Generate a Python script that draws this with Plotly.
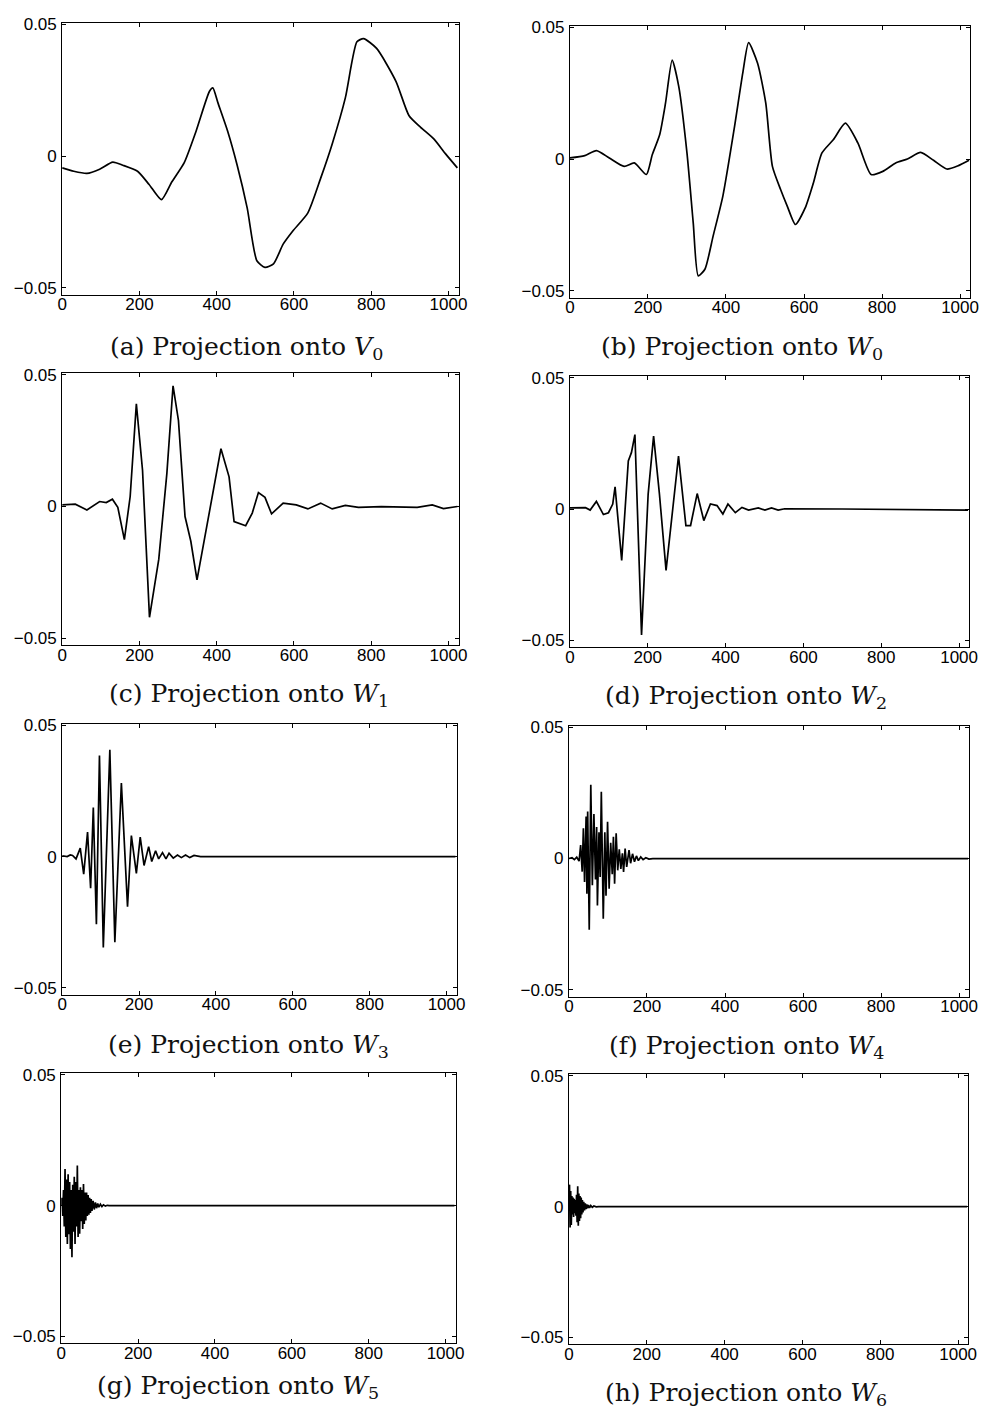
import plotly.graph_objects as go

# ---------------- data ----------------
x_ticks = [0, 200, 400, 600, 800, 1000]
y_tickvals = [-0.05, 0, 0.05]
y_ticktext = ["\u22120.05", "0", "0.05"]

captions = [
    "(a) Projection onto <i>V</i><sub>0</sub>",
    "(b) Projection onto <i>W</i><sub>0</sub>",
    "(c) Projection onto <i>W</i><sub>1</sub>",
    "(d) Projection onto <i>W</i><sub>2</sub>",
    "(e) Projection onto <i>W</i><sub>3</sub>",
    "(f) Projection onto <i>W</i><sub>4</sub>",
    "(g) Projection onto <i>W</i><sub>5</sub>",
    "(h) Projection onto <i>W</i><sub>6</sub>",
]

a_x = [0, 30, 64, 97, 131, 157, 195, 225, 257, 284, 316, 347, 381, 390, 403, 428, 453,
       479, 504, 525, 547, 572, 597, 636, 669, 699, 733, 763, 780, 814, 864, 898, 928,
       962, 992, 1023]
a_y = [-0.0045, -0.0058, -0.0066, -0.005, -0.0023, -0.0035, -0.0058, -0.0108, -0.0166,
       -0.0098, -0.0025, 0.0096, 0.0245, 0.0259, 0.0203, 0.0096, -0.0035, -0.0198, -0.0398,
       -0.0423, -0.041, -0.0335, -0.0285, -0.0216, -0.0085, 0.0046, 0.0221, 0.0434, 0.0446,
       0.0409, 0.0284, 0.0153, 0.0109, 0.0065, 0.0009, -0.0045]

b_x = [0, 38, 68, 101, 139, 165, 196, 211, 230, 245, 262, 279, 300, 316, 329, 346, 367,
       392, 422, 443, 458, 481, 502, 519, 540, 557, 578, 603, 624, 646, 675, 706, 738, 772,
       802, 835, 865, 899, 932, 966, 996, 1023]
b_y = [0.0004, 0.0013, 0.0032, 0.0004, -0.0028, -0.0015, -0.0059, 0.0016, 0.0092, 0.0212,
       0.0376, 0.0275, 0.0023, -0.0242, -0.0444, -0.0419, -0.0293, -0.0141, 0.0124, 0.0326,
       0.0442, 0.0364, 0.0212, -0.0028, -0.0116, -0.0179, -0.0249, -0.0186, -0.0091, 0.0023,
       0.0073, 0.0136, 0.0061, -0.0059, -0.0047, -0.0015, 0.0, 0.0025, -0.0005, -0.0038,
       -0.0025, -0.0005]

c_x = [0, 34, 64, 97, 114, 130, 144, 161, 176, 192, 208, 226, 250, 271, 287, 301, 318,
       333, 349, 368, 390, 411, 432, 445, 475, 492, 508, 525, 542, 572, 606, 636, 669, 699,
       733, 767, 826, 919, 958, 987, 1023]
c_y = [0.0006, 0.0009, -0.0013, 0.0019, 0.0015, 0.0028, -0.0003, -0.0126, 0.0038, 0.039,
       0.0138, -0.0421, -0.0201, 0.0126, 0.0459, 0.0327, -0.0038, -0.0132, -0.0279, -0.0126,
       0.005, 0.022, 0.0113, -0.0057, -0.0073, -0.0025, 0.0053, 0.0035, -0.0028, 0.0013,
       0.0006, -0.0009, 0.0013, -0.0009, 0.0004, -0.0003, 0.0, -0.0003, 0.0006, -0.0008, 0.0]

d_x = [0, 40, 52, 68, 86, 99, 110, 116, 133, 150, 158, 167, 184, 201, 215, 230, 247, 264,
       279, 298, 310, 327, 344, 361, 378, 393, 406, 425, 442, 459, 484, 501, 518, 535, 552,
       700, 1023]
d_y = [0.0004, 0.0005, -0.0004, 0.0029, -0.0021, -0.0014, 0.0019, 0.0085, -0.0196, 0.0183,
       0.0215, 0.0284, -0.048, 0.0057, 0.0278, 0.0057, -0.0234, 0.0006, 0.0202, -0.0063,
       -0.0063, 0.0059, -0.0044, 0.0019, 0.0013, -0.0019, 0.0019, -0.0014, 0.0006, -0.0004,
       0.0004, -0.0004, 0.0004, -0.0004, 0.0001, 0.0, -0.0004]

e_x = [0, 13, 21, 27, 36, 47, 56, 66, 74, 81, 89, 97, 107, 124, 137, 154, 170, 180, 193,
       203, 213, 225, 233, 243, 251, 261, 270, 278, 289, 300, 310, 321, 332, 343, 360, 1023]
e_y = [0.0003, 0.0, 0.0006, 0.0004, -0.0009, 0.0032, -0.0067, 0.0093, -0.0121, 0.0187,
       -0.0258, 0.0385, -0.0347, 0.0407, -0.0327, 0.028, -0.0191, 0.008, -0.0064, 0.0074,
       -0.0034, 0.0038, -0.0019, 0.0022, -0.0009, 0.0015, -0.0009, 0.0013, -0.0006, 0.0006,
       -0.0004, 0.0006, -0.0004, 0.0004, 0.0, 0.0]

f_x = [0, 8, 14, 20, 26, 30, 34, 37, 40, 44, 46, 48, 52, 56, 60, 64, 68, 71, 73, 77, 80,
       83, 88, 92, 95, 99, 103, 107, 111, 114, 117, 121, 125, 129, 133, 137, 140, 144, 148,
       154, 158, 163, 168, 173, 178, 184, 190, 197, 205, 215, 1023]
f_y = [0.0, 0.0003, -0.0004, 0.0005, -0.001, 0.0051, -0.005, 0.0115, -0.0089, 0.016,
       -0.0134, 0.0179, -0.0272, 0.0281, -0.0102, 0.017, -0.008, 0.012, -0.0179, 0.01,
       -0.007, 0.0255, -0.023, 0.01, -0.0142, 0.014, -0.0115, 0.006, -0.006, 0.0083, -0.0096,
       0.0096, -0.0045, 0.0035, -0.004, 0.002, -0.0051, 0.0038, -0.0032, 0.0032, -0.0018,
       0.0018, -0.0012, 0.001, -0.0008, 0.0006, -0.0004, 0.0003, -0.0002, 0.0, 0.0]

g_x = [0, 2, 4, 6, 8, 10, 12, 14, 16, 18, 20, 22, 24, 26, 28, 30, 32, 34, 36, 38, 40, 42,
       44, 46, 48, 50, 52, 54, 56, 58, 60, 62, 64, 66, 68, 70, 72, 74, 76, 78, 80, 83, 86,
       89, 92, 95, 98, 102, 106, 110, 115, 120, 125, 1023]
g_y = [0.0, 0.003, -0.004, 0.006, -0.008, 0.014, -0.012, 0.01, -0.0147, 0.012, -0.011,
       0.009, -0.0166, 0.006, -0.0198, 0.008, -0.01, 0.011, -0.0147, 0.009, -0.008, 0.0153,
       -0.012, 0.006, -0.0108, 0.007, -0.006, 0.006, -0.009, 0.0083, -0.007, 0.005, -0.0057,
       0.005, -0.004, 0.004, -0.0035, 0.003, -0.0028, 0.0025, -0.002, 0.0018, -0.0015,
       0.0012, -0.001, 0.0008, -0.0006, 0.0005, -0.0004, 0.0003, -0.0002, 0.0001, 0.0, 0.0]

h_x = [0, 1.5, 3, 4.5, 6, 7.5, 9, 10.5, 12, 13.5, 15, 16.5, 18, 19.5, 21, 22.5, 24, 25.5,
       27, 28.5, 30, 31.5, 33, 34.5, 36, 38, 40, 42, 44, 46, 48, 50, 53, 56, 60, 64, 70, 76,
       1023]
h_y = [0.0, 0.0084, -0.008, 0.006, -0.007, 0.004, -0.003, 0.0035, -0.004, 0.003, -0.0025,
       0.0025, -0.0035, 0.0045, -0.006, 0.0078, -0.0073, 0.005, -0.0055, 0.004, -0.0045,
       0.0035, -0.003, 0.0025, -0.0022, 0.0018, -0.0015, 0.0012, -0.001, 0.0008, -0.0007,
       0.0006, -0.0005, 0.0004, -0.0003, 0.0002, -0.0001, 0.0, 0.0]

series = [(a_x, a_y), (b_x, b_y), (c_x, c_y), (d_x, d_y),
          (e_x, e_y), (f_x, f_y), (g_x, g_y), (h_x, h_y)]

# ---------------- layout (pixel boxes of each panel) ----------------
W, H = 994, 1416
boxes = [  # left, right, top, bottom (px)
    (58, 460, 16, 290), (573, 979, 19, 293),
    (58, 460, 369, 643), (573, 978, 372, 645),
    (58, 458, 722, 995), (572, 978, 724, 997),
    (57, 457, 1074, 1346), (572, 977, 1075, 1347),
]
caption_pos = [(245, 343), (748, 343), (247, 693), (752, 695),
               (247, 1046), (752, 1047), (236, 1390), (752, 1397)]
smooth = [True, True, False, False, False, False, False, False]

fig = go.Figure()
tickfont = dict(family="Liberation Sans, Arial, sans-serif", size=17, color="black")

for i, ((xs, ys), (l, r, t, b)) in enumerate(zip(series, boxes)):
    n = "" if i == 0 else str(i + 1)
    fig.add_trace(go.Scatter(
        x=xs, y=ys, mode="lines",
        line=dict(color="black", width=1.7,
                  shape="spline" if smooth[i] else "linear",
                  smoothing=0.6 if smooth[i] else None),
        xaxis="x" + n, yaxis="y" + n, hoverinfo="skip"))
    fig.layout["xaxis" + n] = dict(
        domain=[l / W, r / W], anchor="y" + n, range=[0, 1026],
        tickvals=x_ticks, ticks="inside", ticklen=4, tickcolor="black",
        showline=True, linecolor="black", linewidth=1, mirror="ticks",
        showgrid=False, zeroline=False, tickfont=tickfont,
        ticklabelstandoff=-6, fixedrange=True)
    fig.layout["yaxis" + n] = dict(
        domain=[1 - b / H, 1 - t / H], anchor="x" + n, range=[-0.0528, 0.0506],
        tickvals=y_tickvals, ticktext=y_ticktext, ticks="inside", ticklen=4,
        tickcolor="black", showline=True, linecolor="black", linewidth=1,
        mirror="ticks", showgrid=False, zeroline=False, tickfont=tickfont,
        ticklabelstandoff=1, fixedrange=True)

for text, (cx, cy) in zip(captions, caption_pos):
    fig.add_annotation(
        text=text, xref="paper", yref="paper", x=cx / W, y=1 - cy / H,
        xanchor="center", yanchor="middle", showarrow=False,
        font=dict(family="DejaVu Serif, serif", size=25, color="#111111"))

fig.update_layout(
    width=W, height=H, margin=dict(l=0, r=0, t=0, b=0),
    paper_bgcolor="white", plot_bgcolor="white", showlegend=False)

fig.write_html("out.html", config={"displayModeBar": False},
               post_script="document.body.style.margin='0px';")
